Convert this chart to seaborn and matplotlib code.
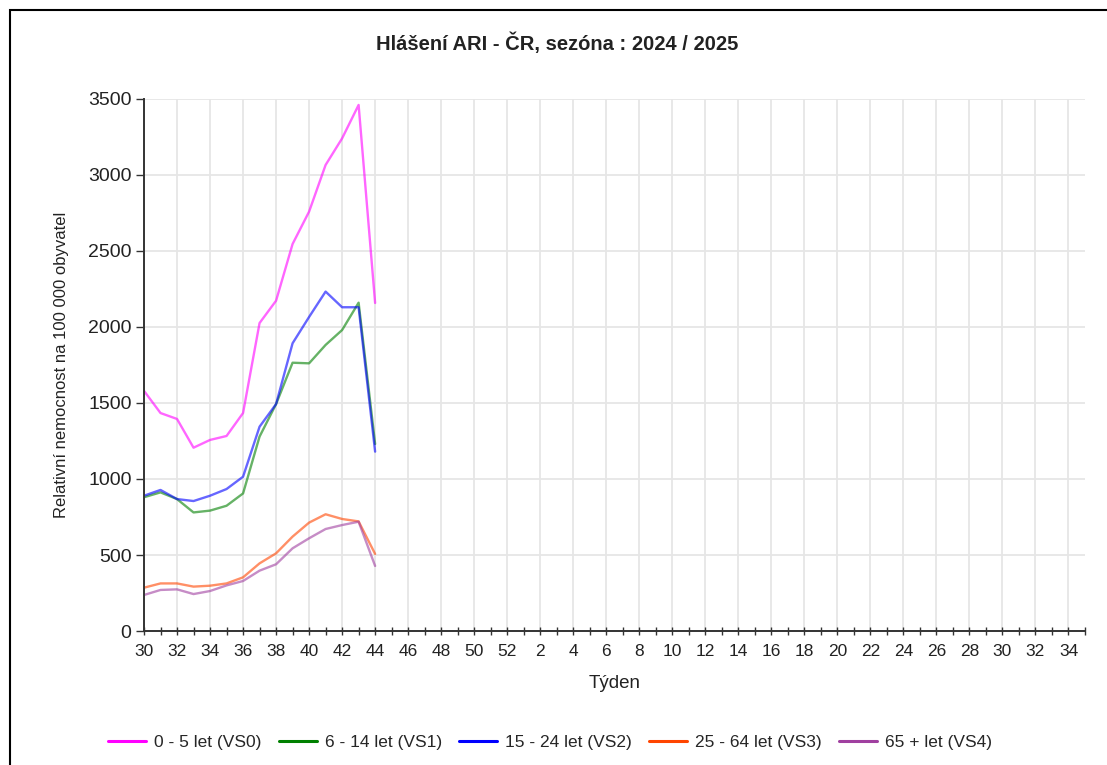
import matplotlib
matplotlib.use("Agg")
import matplotlib.pyplot as plt
import seaborn as sns
import pandas as pd
from matplotlib.lines import Line2D
from matplotlib.patches import Rectangle

# ---- data ----
season_weeks = list(range(30, 53)) + list(range(1, 36))   # axis categories
data_weeks = list(range(30, 45))
vs0 = [1580, 1434, 1395, 1206, 1257, 1283, 1434, 2026, 2173, 2546, 2759, 3066, 3241, 3461, 2158]
vs1 = [880, 912, 868, 780, 792, 824, 905, 1279, 1493, 1765, 1761, 1882, 1980, 2160, 1230]
vs2 = [890, 928, 868, 855, 890, 934, 1015, 1344, 1493, 1893, 2066, 2233, 2130, 2130, 1180]
vs3 = [285, 313, 313, 292, 298, 313, 353, 445, 511, 621, 713, 768, 737, 721, 507]
vs4 = [237, 270, 274, 243, 263, 300, 329, 397, 439, 544, 610, 671, 697, 719, 428]
series_names = ["0 - 5 let (VS0)", "6 - 14 let (VS1)", "15 - 24 let (VS2)",
                "25 - 64 let (VS3)", "65 + let (VS4)"]
series_vals = [vs0, vs1, vs2, vs3, vs4]
colors = ["#ff00ff", "#008000", "#0000ff", "#ff4500", "#a040a0"]
y_ticks = [0, 500, 1000, 1500, 2000, 2500, 3000, 3500]

rows = []
for name, vals in zip(series_names, series_vals):
    for w, v in zip(data_weeks, vals):
        rows.append({"pos": season_weeks.index(w), "value": v, "series": name})
df = pd.DataFrame(rows)

sns.set_theme(style="white")
plt.rcParams["font.family"] = ["Liberation Sans", "DejaVu Sans"]

fig = plt.figure(figsize=(11.07, 7.65), dpi=100)
ax = fig.add_axes([144 / 1107, 1 - 631 / 765, (1085 - 144) / 1107, (631 - 99) / 765])

sns.lineplot(data=df, x="pos", y="value", hue="series", hue_order=series_names,
             palette=colors, ax=ax, linewidth=1.7, alpha=0.6, legend=False)

n = len(season_weeks)
ax.set_xlim(0, n - 1)
ax.set_ylim(0, 3500)
ax.set_yticks(y_ticks)
ax.set_yticklabels([str(t) for t in y_ticks], fontsize=14, color="#222222")
ax.set_xticks(range(n))
ax.set_xticklabels([str(w) if i % 2 == 0 else "" for i, w in enumerate(season_weeks)],
                   fontsize=12.5, color="#222222")
ax.tick_params(axis="x", length=6, width=1, color="#333333", direction="inout", pad=6, bottom=True)
ax.tick_params(axis="y", length=6, width=1, color="#333333", direction="out", pad=3, left=True)

# grid: horizontal at each 500, vertical every 2 weeks
for t in y_ticks[1:]:
    ax.axhline(t, color="#e6e6e6", lw=1.3, zorder=0)
for i in range(0, n, 2):
    ax.axvline(i, color="#e6e6e6", lw=1.3, zorder=0)

for s in ["top", "right"]:
    ax.spines[s].set_visible(False)
for s in ["left", "bottom"]:
    ax.spines[s].set_color("#333333")
    ax.spines[s].set_linewidth(1.4)

ax.set_xlabel("Týden", fontsize=13.5, color="#222222", labelpad=12)
ax.set_ylabel("Relativní nemocnost na 100 000 obyvatel", fontsize=12, color="#222222", labelpad=14)

fig.text(557 / 1107, 1 - 43 / 765, "Hlášení ARI - ČR, sezóna : 2024 / 2025", ha="center", va="center",
         fontsize=14.5, fontweight="bold", color="#222222")

handles = [Line2D([0], [0], color=c, lw=2.2) for c in colors]
fig.legend(handles, series_names, loc="center", bbox_to_anchor=(550 / 1107, 1 - 742 / 765), ncol=5,
           frameon=False, fontsize=12.5, handlelength=2.2, columnspacing=1.0, handletextpad=0.45)

fig.patches.append(Rectangle((10 / 1107, -0.01), 1.2, 1 - 10 / 765 + 0.01, transform=fig.transFigure,
                             fill=False, edgecolor="black", lw=1.5))

fig.savefig("out.png", dpi=100)
